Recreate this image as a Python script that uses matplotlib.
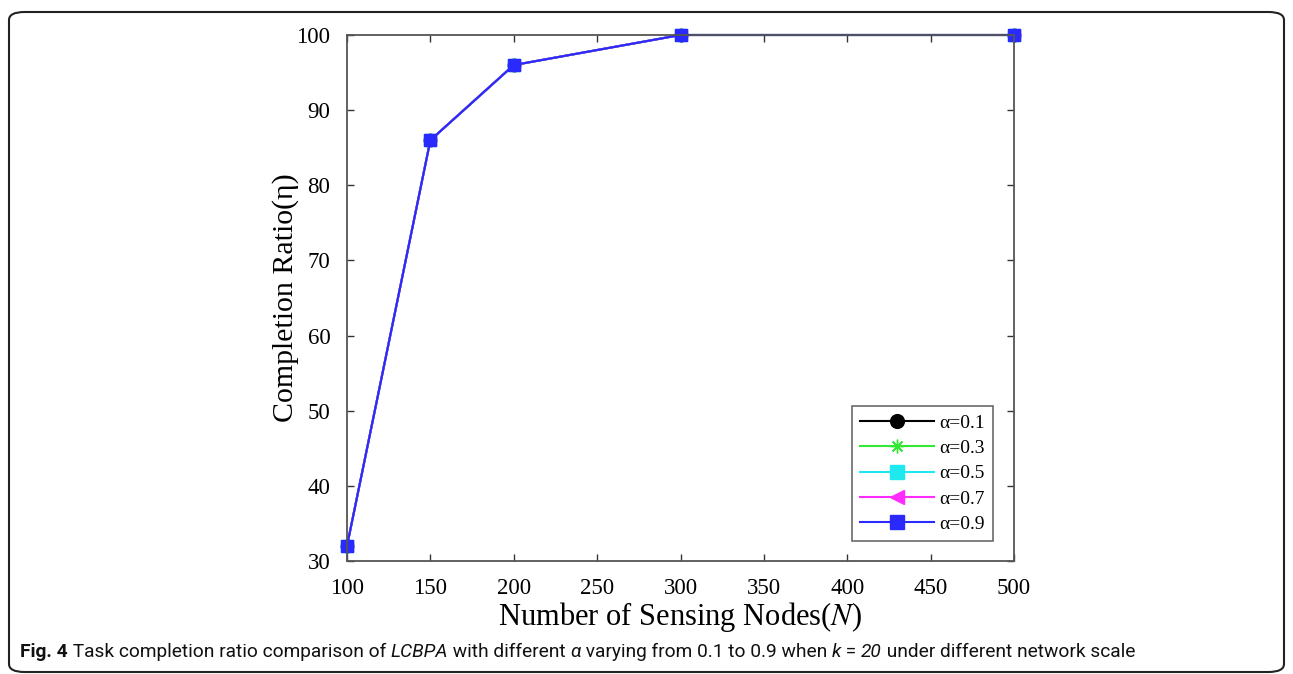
import matplotlib
matplotlib.use("Agg")
import matplotlib.pyplot as plt
from matplotlib.patches import FancyBboxPatch

# ---- data ----
nodes = [100, 150, 200, 300, 500]
alpha_labels = ["α=0.1", "α=0.3", "α=0.5", "α=0.7", "α=0.9"]
ratio_a01 = [32, 86, 96, 100, 100]
ratio_a03 = [32, 86, 96, 100, 100]
ratio_a05 = [32, 86, 96, 100, 100]
ratio_a07 = [32, 86, 96, 100, 100]
ratio_a09 = [32, 86, 96, 100, 100]
xticks = [100, 150, 200, 250, 300, 350, 400, 450, 500]
yticks = [30, 40, 50, 60, 70, 80, 90, 100]

series = [ratio_a01, ratio_a03, ratio_a05, ratio_a07, ratio_a09]
colors = ["black", "#33e833", "#1fe8ee", "#ff2bff", "#2a2aff"]
markers = ["o", (8, 2, 0), "s", "<", "s"]

plt.rcParams['font.family'] = ['Liberation Serif', 'DejaVu Serif']
plt.rcParams['mathtext.fontset'] = 'stix'

fig = plt.figure(figsize=(12.93, 6.74), dpi=100)
ax = fig.add_axes([347/1293, 1-561/674, (1014-347)/1293, (561-35)/674])

for vals, lab, c, m in zip(series, alpha_labels, colors, markers):
    ax.plot(nodes, vals, color=c, marker=m, markersize=9, linewidth=1.5,
            label=lab, clip_on=False)

ax.set_xlim(100, 500)
ax.set_ylim(30, 100)
ax.set_xticks(xticks)
ax.set_yticks(yticks)
ax.tick_params(direction='in', top=True, right=True, labelsize=16.5,
               length=5, width=1, colors='#333333', labelcolor='black')
ax.tick_params(axis='x', pad=12)
ax.tick_params(axis='y', pad=12)
for s in ax.spines.values():
    s.set_color('#555555')
    s.set_linewidth(1.3)

ax.set_xlabel("Number of Sensing Nodes($\\mathit{N}$)", fontsize=22, labelpad=1)
ax.set_ylabel("Completion Ratio(η)", fontsize=21.5, labelpad=-2)

leg = ax.legend(loc='lower right', bbox_to_anchor=(0.9685, 0.038), fontsize=14,
                frameon=True, fancybox=False, edgecolor='#444444',
                handlelength=3.8, borderpad=0.4, labelspacing=0.4,
                handletextpad=0.3, markerscale=1.1, borderaxespad=0)
leg.get_frame().set_linewidth(1.2)

# border
border = FancyBboxPatch((9/1293, 2/674), 1275/1293, 660/674,
                        boxstyle="round,pad=0,rounding_size=0.012",
                        transform=fig.transFigure, fill=False,
                        edgecolor='#222222', linewidth=1.5)
fig.patches.append(border)

# caption
cap_family = ['Liberation Sans Narrow', 'Roboto', 'Noto Sans']
pieces = [
    ("Fig. 4", 'bold', 'normal'),
    (" Task completion ratio comparison of ", 'normal', 'normal'),
    ("LCBPA", 'normal', 'italic'),
    (" with different ", 'normal', 'normal'),
    ("α", 'normal', 'italic'),
    (" varying from 0.1 to 0.9 when ", 'normal', 'normal'),
    ("k", 'normal', 'italic'),
    (" = ", 'normal', 'normal'),
    ("20", 'normal', 'italic'),
    (" under different network scale", 'normal', 'normal'),
]
fig.canvas.draw()
renderer = fig.canvas.get_renderer()
x = 20 / 1293
y = 1 - 657/674
for txt, w, st in pieces:
    t = fig.text(x, y, txt, fontsize=13.8, fontweight=w, fontstyle=st,
                 family=cap_family, va='baseline', ha='left', color='#111111')
    bb = t.get_window_extent(renderer)
    x = fig.transFigure.inverted().transform((bb.x1, 0))[0]

fig.savefig("out.png", dpi=100)
